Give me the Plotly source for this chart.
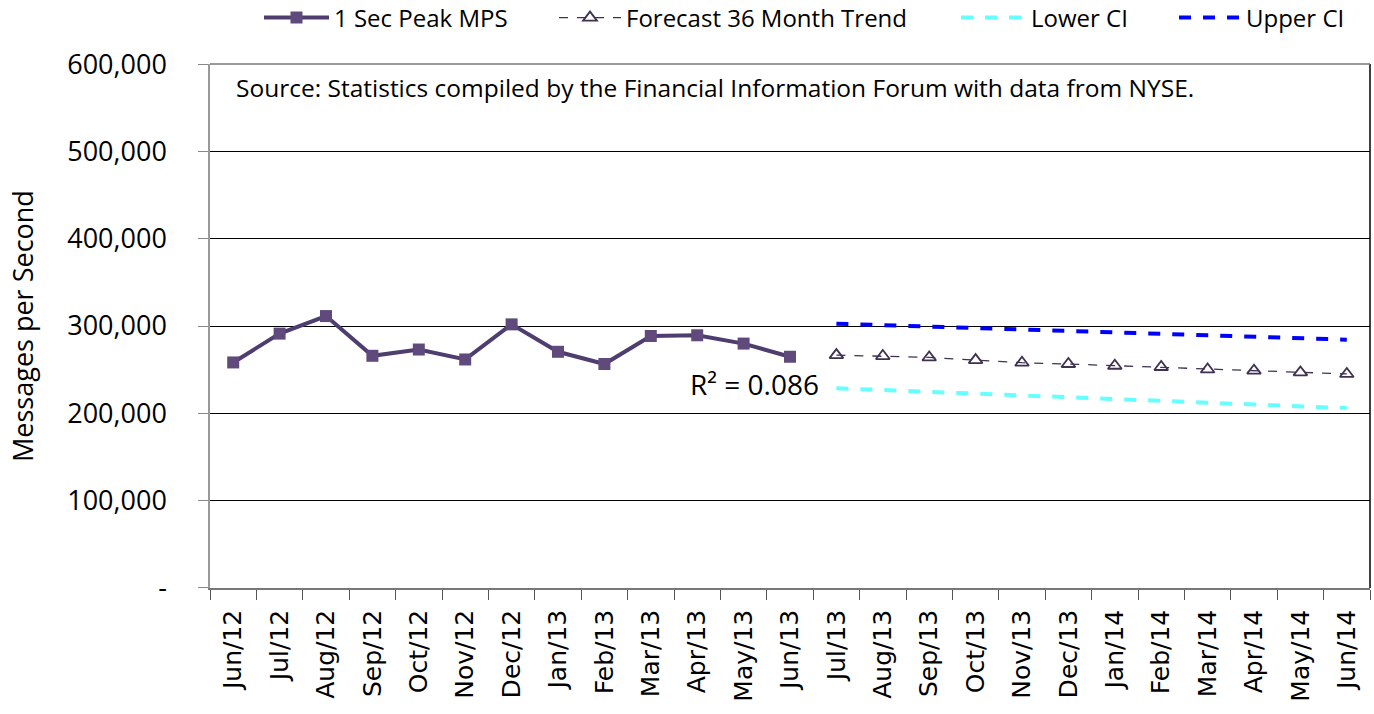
import plotly.graph_objects as go

months = ["Jun/12", "Jul/12", "Aug/12", "Sep/12", "Oct/12", "Nov/12", "Dec/12",
          "Jan/13", "Feb/13", "Mar/13", "Apr/13", "May/13", "Jun/13",
          "Jul/13", "Aug/13", "Sep/13", "Oct/13", "Nov/13", "Dec/13",
          "Jan/14", "Feb/14", "Mar/14", "Apr/14", "May/14", "Jun/14"]

actual_months = months[:13]
peak_mps = [258300, 291300, 311400, 265900, 273100, 261700, 301900,
            270500, 256500, 288600, 289400, 279900, 264800]

forecast_months = months[13:]
forecast = [266700, 265600, 264000, 261000, 258000, 256500,
            254500, 253100, 250300, 248900, 246900, 245100]
lower_ci = [228800, 226700, 224600, 222500, 220500, 218400,
            216300, 214300, 212200, 210200, 208100, 206000]
upper_ci = [302600, 301000, 299300, 297700, 296000, 294400,
            292700, 291000, 289400, 287700, 286000, 284400]

y_ticks = [0, 100000, 200000, 300000, 400000, 500000, 600000]
y_tick_text = ["-", "100,000", "200,000", "300,000", "400,000", "500,000", "600,000"]

FONT = "'Open Sans', sans-serif"
W, H = 1374, 714

fig = go.Figure()
fig.add_trace(go.Scatter(
    x=actual_months, y=peak_mps, name="1 Sec Peak MPS", mode="lines+markers",
    line=dict(color="#4E3D6E", width=4), legend="legend",
    marker=dict(symbol="square", size=12, color="#604A7B", line=dict(width=0))))
fig.add_trace(go.Scatter(
    x=forecast_months, y=forecast, name="Forecast 36 Month Trend", mode="lines+markers",
    line=dict(color="#3F3151", width=1.3, dash="dash"), legend="legend2",
    marker=dict(symbol="triangle-up-open", size=12, color="#3F3151", line=dict(width=1.8))))
fig.add_trace(go.Scatter(
    x=forecast_months, y=lower_ci, name="Lower CI", mode="lines", legend="legend3",
    line=dict(color="#66FFFF", width=4, dash="dash")))
fig.add_trace(go.Scatter(
    x=forecast_months, y=upper_ci, name="Upper CI", mode="lines", legend="legend4",
    line=dict(color="#0000FF", width=4, dash="dash")))

def leg(px, w):
    return dict(orientation="h", x=px / W, y=1 - 18 / H, xanchor="left", yanchor="middle",
                xref="container", yref="container",
                font=dict(size=24, family=FONT), itemwidth=w,
                bgcolor="rgba(0,0,0,0)", borderwidth=0)

fig.update_layout(
    width=W, height=H,
    margin=dict(l=210, r=4, t=59, b=126),
    paper_bgcolor="white", plot_bgcolor="white",
    font=dict(family=FONT, color="black"),
    showlegend=True,
    legend=leg(259, 65), legend2=leg(554, 62), legend3=leg(956, 65), legend4=leg(1174, 62),
    xaxis=dict(
        type="category", categoryorder="array", categoryarray=months,
        range=[-0.5, 24.5], tickangle=-90,
        tickfont=dict(size=25, family="'DejaVu Sans', sans-serif"),
        ticks="outside", tickson="boundaries", ticklen=10, tickcolor="#555",
        ticklabelstandoff=10,
        showline=True, linecolor="#777", linewidth=1.5, mirror=False,
        showgrid=False, zeroline=False, fixedrange=True),
    yaxis=dict(
        range=[0, 600000], tickvals=y_ticks, ticktext=y_tick_text,
        tickfont=dict(size=27, family=FONT),
        ticks="outside", ticklen=10, tickcolor="#888",
        ticklabelstandoff=26,
        showline=True, linecolor="#999", linewidth=1.5,
        showgrid=True, gridcolor="black", gridwidth=1,
        zeroline=False,
        title=dict(text="Messages per Second", font=dict(size=27, family=FONT), standoff=26),
        fixedrange=True),
)

fig.add_shape(type="line", xref="paper", yref="paper", x0=1, x1=1, y0=0, y1=1,
              line=dict(color="black", width=1.5))
fig.add_shape(type="line", xref="paper", yref="paper", x0=0, x1=1, y0=1, y1=1,
              line=dict(color="#777", width=1.5))

fig.add_annotation(
    text="Source: Statistics compiled by the Financial Information Forum with data from NYSE.",
    xref="paper", yref="paper", x=0.021, y=0.99, xanchor="left", yanchor="top",
    showarrow=False, font=dict(size=24.5, family=FONT))
fig.add_annotation(
    text="R² = 0.086", xref="paper", yref="paper", x=0.527, y=0.39,
    xanchor="right", yanchor="middle", showarrow=False,
    font=dict(size=28, family=FONT))

fig.write_html("out.html", config={"displayModeBar": False},
               post_script="document.body.style.margin='0';document.body.style.padding='0';")
